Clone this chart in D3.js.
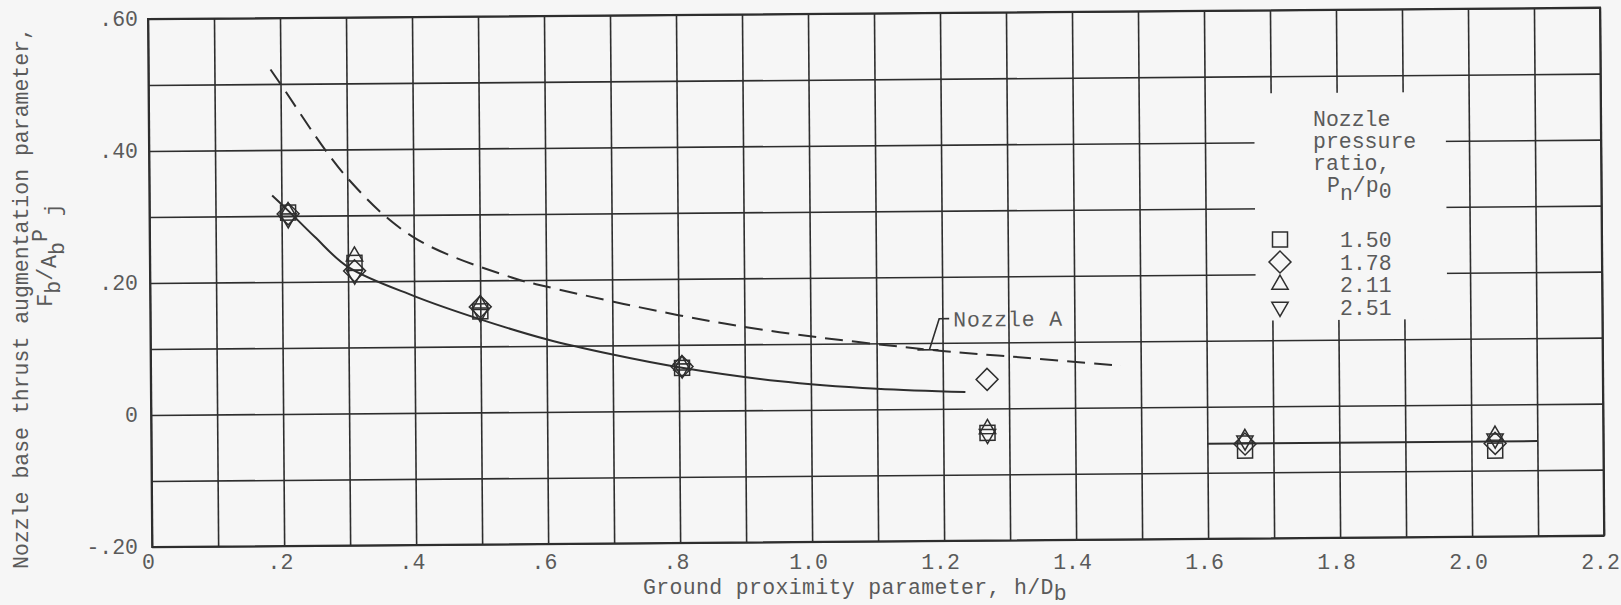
<!DOCTYPE html>
<html>
<head>
<meta charset="utf-8">
<script src="https://cdn.jsdelivr.net/npm/d3@7"></script>
<style>
  html, body { margin: 0; padding: 0; background: #f6f6f6; }
  svg { display: block; }
  text { font-family: "Liberation Mono", "DejaVu Sans Mono", monospace; fill: #5a5a5a; }
</style>
</head>
<body>
<svg id="chart" width="1621" height="605"></svg>
<script>
// Ground proximity parameter h/D_b for each test station
const hValues = [0.21, 0.31, 0.50, 0.805, 1.267, 1.657, 2.036];

// Base thrust augmentation F_b/A_b P_j, one list per nozzle pressure ratio
const ratioLabels = ["1.50", "1.78", "2.11", "2.51"];
const thrust150 = [0.305, 0.228, 0.153, 0.065, -0.037, -0.067, -0.070];
const thrust178 = [0.303, 0.216, 0.160, 0.067, 0.044, -0.057, -0.059];
const thrust211 = [0.306, 0.238, 0.163, 0.069, -0.031, -0.049, -0.047];
const thrust251 = [0.296, 0.210, 0.151, 0.064, -0.039, -0.052, -0.052];

// Faired curve through the data
const fairH = [0.186, 0.21, 0.25, 0.30, 0.40, 0.50, 0.60, 0.70, 0.80, 0.95, 1.10, 1.234];
const fairV = [0.331, 0.308, 0.268, 0.222, 0.177, 0.141, 0.110, 0.086, 0.066, 0.044, 0.031, 0.025];

// Nozzle A comparison curve (dashed)
const nozzleAH = [0.185, 0.20, 0.30, 0.40, 0.548, 0.60, 0.80, 0.953, 1.195, 1.33, 1.47];
const nozzleAV = [0.522, 0.50, 0.357, 0.266, 0.204, 0.190, 0.145, 0.118, 0.088, 0.076, 0.063];

// Level line across the far stations
const levelH = [1.6, 2.1];
const levelV = [-0.056, -0.056];

// Axis ticks
const xTickValues = [0, 0.2, 0.4, 0.6, 0.8, 1.0, 1.2, 1.4, 1.6, 1.8, 2.0, 2.2];
const xTickLabels = ["0", ".2", ".4", ".6", ".8", "1.0", "1.2", "1.4", "1.6", "1.8", "2.0", "2.2"];
const yTickValues = [0.6, 0.4, 0.2, 0, -0.2];
const yTickLabels = [".60", ".40", ".20", "0", "-.20"];

const svg = d3.select("#chart");
const originX = 148, originY = 19;
const W = 1452, H = 528;
const ink = "#2e2e2e";
const paper = "#f6f6f6";
const fontSize = "21.5px";

const x = d3.scaleLinear().domain([0, 2.2]).range([0, W]);
const y = d3.scaleLinear().domain([-0.2, 0.6]).range([H, 0]);

// the ruled sheet sits with a slight tilt
const plot = svg.append("g").attr("transform", `translate(${originX},${originY}) rotate(-0.45)`);

// grid at every 0.1 in both directions
const gridX = d3.range(0, 23).map(i => i / 10);
const gridY = d3.range(-2, 7).map(i => i / 10);

plot.append("g")
  .attr("transform", `translate(0,${H})`)
  .call(d3.axisBottom(x).tickValues(gridX).tickSize(-H).tickFormat(""))
  .call(g => g.select(".domain").remove())
  .call(g => g.selectAll("line").attr("stroke", ink).attr("stroke-width", 1.6));

plot.append("g")
  .call(d3.axisLeft(y).tickValues(gridY).tickSize(-W).tickFormat(""))
  .call(g => g.select(".domain").remove())
  .call(g => g.selectAll("line").attr("stroke", ink).attr("stroke-width", 1.6));

// blank panel kept clear for the key
plot.append("rect")
  .attr("x", x(1.675)).attr("y", y(0.474))
  .attr("width", x(1.965) - x(1.675)).attr("height", y(0.13) - y(0.474))
  .attr("fill", paper);

// frame
plot.append("rect")
  .attr("x", 0).attr("y", 0).attr("width", W).attr("height", H)
  .attr("fill", "none").attr("stroke", ink).attr("stroke-width", 2);

// tick labels, typed level on the page
const labels = svg.append("g").attr("transform", `translate(${originX},${originY})`);

labels.append("g")
  .attr("transform", `translate(0,${H})`)
  .call(d3.axisBottom(x).tickValues(xTickValues).tickSize(0).tickPadding(7)
    .tickFormat((d, i) => xTickLabels[i]))
  .call(g => g.select(".domain").remove())
  .call(g => g.selectAll("text").attr("font-size", fontSize).attr("fill", "#5a5a5a")
    .attr("font-family", "Liberation Mono, monospace"));

labels.append("g")
  .call(d3.axisLeft(y).tickValues(yTickValues).tickSize(0).tickPadding(10)
    .tickFormat((d, i) => yTickLabels[i]))
  .call(g => g.select(".domain").remove())
  .call(g => g.selectAll("text").attr("font-size", fontSize).attr("fill", "#5a5a5a")
    .attr("font-family", "Liberation Mono, monospace"));

// curves
const line = d3.line().x(d => x(d[0])).y(d => y(d[1])).curve(d3.curveCatmullRom.alpha(0.5));

plot.append("path")
  .datum(d3.zip(fairH, fairV))
  .attr("d", line)
  .attr("fill", "none").attr("stroke", ink).attr("stroke-width", 2);

plot.append("path")
  .datum(d3.zip(nozzleAH, nozzleAV))
  .attr("d", line)
  .attr("fill", "none").attr("stroke", ink).attr("stroke-width", 2)
  .attr("stroke-dasharray", "18,9");

plot.append("path")
  .datum(d3.zip(levelH, levelV))
  .attr("d", d3.line().x(d => x(d[0])).y(d => y(d[1])))
  .attr("fill", "none").attr("stroke", ink).attr("stroke-width", 2);

// "Nozzle A" callout with leader to the dashed curve
const tagX = x(1.18), tagY = y(0.0895);
const tag = plot.append("g").attr("transform", `translate(${tagX},${tagY})`);
tag.append("path")
  .attr("d", "M-12,0 H9 M0,0 L10,-31 H20")
  .attr("fill", "none").attr("stroke", ink).attr("stroke-width", 1.6);
tag.append("text")
  .attr("x", 24).attr("y", -23)
  .attr("font-size", fontSize)
  .attr("letter-spacing", "0.8px")
  .text("Nozzle A");

// symbols per pressure ratio
const markers = [
  { values: thrust150, type: d3.symbolSquare, size: 225, rot: 0 },
  { values: thrust178, type: d3.symbolSquare, size: 240, rot: 45 },
  { values: thrust211, type: d3.symbolTriangle, size: 115, rot: 0 },
  { values: thrust251, type: d3.symbolTriangle, size: 115, rot: 180 }
];

markers.forEach(m => {
  plot.append("g").selectAll("path")
    .data(d3.zip(hValues, m.values))
    .join("path")
    .attr("d", d3.symbol().type(m.type).size(m.size))
    .attr("transform", d => `translate(${x(d[0])},${y(d[1])}) rotate(${m.rot})`)
    .attr("fill", "none").attr("stroke", ink).attr("stroke-width", 1.5);
});

// key
const key = svg.append("g");
const head = key.append("text").attr("font-size", fontSize);
head.append("tspan").attr("x", 1313).attr("y", 126).text("Nozzle");
head.append("tspan").attr("x", 1313).attr("y", 148).text("pressure");
head.append("tspan").attr("x", 1313).attr("y", 170).text("ratio,");
const pr = key.append("text").attr("font-size", fontSize).attr("x", 1327).attr("y", 192);
pr.append("tspan").text("P");
pr.append("tspan").attr("dy", 8).text("n");
pr.append("tspan").attr("dy", -8).text("/p");
pr.append("tspan").attr("dy", 6).text("0");

markers.forEach((m, i) => {
  const cy = 239.5 + i * 22.5;
  key.append("path")
    .attr("d", d3.symbol().type(m.type).size(m.size)())
    .attr("transform", `translate(1280,${cy}) rotate(${m.rot})`)
    .attr("fill", "none").attr("stroke", ink).attr("stroke-width", 1.5);
  key.append("text")
    .attr("x", 1340).attr("y", cy + 7.5)
    .attr("font-size", fontSize)
    .text(ratioLabels[i]);
});

// axis titles
const xt = svg.append("text").attr("x", 643).attr("y", 594)
  .attr("font-size", fontSize).attr("letter-spacing", "0.35px");
xt.append("tspan").text("Ground proximity parameter, h/D");
xt.append("tspan").attr("dy", 6).text("b");

svg.append("text")
  .attr("transform", "translate(28,298) rotate(-90)")
  .attr("text-anchor", "middle")
  .attr("font-size", fontSize)
  .text("Nozzle base thrust augmentation parameter,");

const yt = svg.append("text")
  .attr("transform", "translate(52,255) rotate(-90)")
  .attr("text-anchor", "middle")
  .attr("font-size", fontSize);
yt.append("tspan").text("F");
yt.append("tspan").attr("dy", 8).text("b");
yt.append("tspan").attr("dy", -8).text("/");
yt.append("tspan").attr("dy", 4).text("A");
yt.append("tspan").attr("dy", 8).text("b");
yt.append("tspan").attr("dy", -17).text("P");
yt.append("tspan").attr("dy", 13).text(" j");
</script>
</body>
</html>
